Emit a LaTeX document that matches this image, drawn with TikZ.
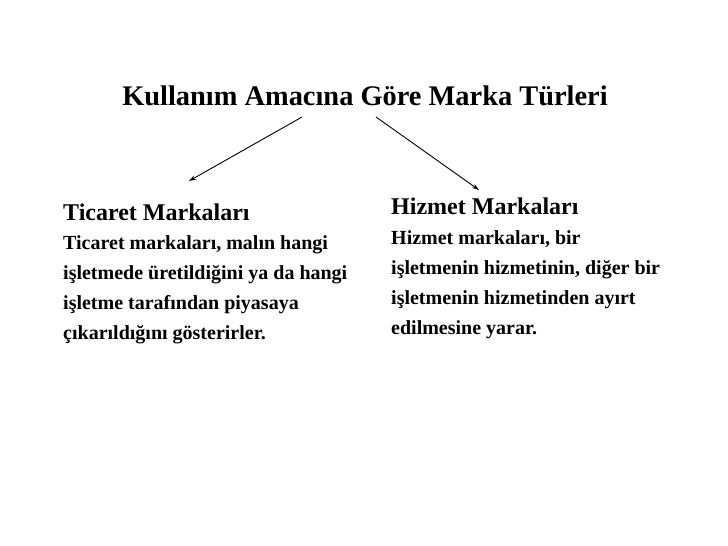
\documentclass[tikz,border=0pt]{standalone}
\usepackage{fontspec}
\setmainfont{Liberation Serif}
\usetikzlibrary{arrows.meta}
\tikzset{
  title/.style={font=\fontsize{28.4}{32}\selectfont\bfseries, inner sep=0pt, anchor=base},
  head/.style={font=\fontsize{24}{28}\selectfont\bfseries, inner sep=0pt, anchor=base west},
  body/.style={font=\fontsize{20}{24}\selectfont\bfseries, inner sep=0pt, anchor=base west},
  arr/.style={-{Stealth[length=7pt,width=4.5pt]}, line width=0.9pt},
}
\begin{document}
\begin{tikzpicture}[x=1pt,y=-1pt]
\useasboundingbox (0,0) rectangle (728,546);
\node[title] (t) at (365,105) {Kullanım Amacına Göre Marka Türleri};
\coordinate (a1s) at (302,117);
\coordinate (a1e) at (189,181);
\coordinate (a2s) at (376,117);
\coordinate (a2e) at (479,190);
\draw[arr] (a1s) -- (a1e);
\draw[arr] (a2s) -- (a2e);
\node[head] (lh) at (63,220) {Ticaret Markaları};
\node[body] (l1) at (63,249) {Ticaret markaları, malın hangi};
\node[body] (l2) at (63,279) {işletmede üretildiğini ya da hangi};
\node[body] (l3) at (63,309) {işletme tarafından piyasaya};
\node[body] (l4) at (63,339) {çıkarıldığını gösterirler.};
\node[head] (rh) at (391,214) {Hizmet Markaları};
\node[body] (r1) at (391,244) {Hizmet markaları, bir};
\node[body] (r2) at (391,274) {işletmenin hizmetinin, diğer bir};
\node[body] (r3) at (391,304) {işletmenin hizmetinden ayırt};
\node[body] (r4) at (391,334) {edilmesine yarar.};
\end{tikzpicture}
\end{document}
